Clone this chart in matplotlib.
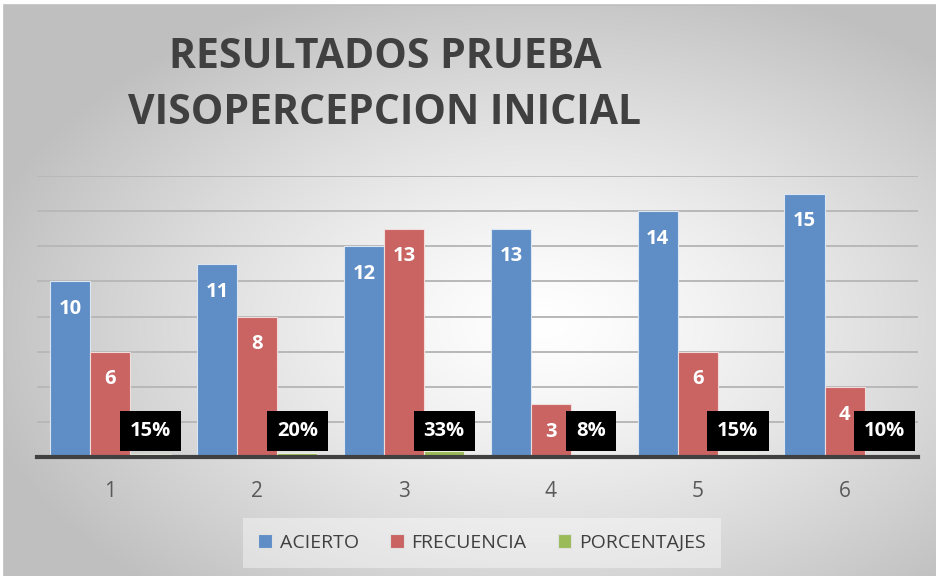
import numpy as np
import matplotlib
matplotlib.use("Agg")
import matplotlib.pyplot as plt
from matplotlib.patches import Rectangle, Patch
from matplotlib import font_manager

# data
categorias = ["1", "2", "3", "4", "5", "6"]
acierto = [10, 11, 12, 13, 14, 15]
frecuencia = [6, 8, 13, 3, 6, 4]
porcentajes = [0.15, 0.20, 0.33, 0.08, 0.15, 0.10]
series_names = ["ACIERTO", "FRECUENCIA", "PORCENTAJES"]

BLUE = "#5f8ec6"
RED = "#c96463"
GREEN = "#9bbb59"
TEXT = "#404040"

names = {f.name for f in font_manager.fontManager.ttflist}
narrow = "Liberation Sans Narrow" if "Liberation Sans Narrow" in names else "Open Sans"
plt.rcParams["font.family"] = ["Open Sans", "DejaVu Sans"]

W, H = 937, 576
fig = plt.figure(figsize=(W / 100, H / 100), dpi=100)

# radial grey gradient background like the office chart area
bg = fig.add_axes([0, 0, 1, 1], zorder=-10)
yy, xx = np.mgrid[0:H, 0:W]
cx, cy = 0.58 * W, 0.56 * H
d = np.sqrt(((xx - cx) / (0.62 * W)) ** 2 + ((yy - cy) / (0.62 * H)) ** 2)
d = np.clip(d, 0, 1)
level = 1.0 - 0.25 * d ** 1.3
img = np.dstack([level, level, level])
img[:5, :] = 1.0
img[:, :4] = 1.0
bg.imshow(img, extent=[0, 1, 0, 1], aspect="auto", origin="upper")
bg.set_xlim(0, 1)
bg.set_ylim(0, 1)
bg.axis("off")
bg.add_patch(Rectangle((4 / W, -0.01), 1.0, 1 - 5 / H + 0.01, fill=False,
                       edgecolor="#bfbfbf", linewidth=1.2))

ax = fig.add_axes([37 / W, 1 - 457 / H, 881 / W, 281 / H])
ax.set_facecolor("none")

x = np.arange(len(categorias))
w = 0.273
bars_a = ax.bar(x - w, acierto, w, color=BLUE, edgecolor="#dce6f2", linewidth=0.8, zorder=3)
bars_f = ax.bar(x, frecuencia, w, color=RED, edgecolor="#f2dcdb", linewidth=0.8, zorder=3)
bars_p = ax.bar(x + w, porcentajes, w, color=GREEN, edgecolor="#ebf1de", linewidth=0.8, zorder=3)

ax.set_xlim(-0.5, len(categorias) - 0.5)
ax.set_ylim(0, 16)
ax.set_yticks(np.arange(2, 17, 2))
ax.yaxis.grid(True, color="#b8b8b8", linewidth=1.4, zorder=0)
ax.tick_params(axis="y", length=0, labelleft=False)
ax.set_xticks(x)
ax.set_xticklabels(categorias, fontsize=15, color="#595959")
ax.tick_params(axis="x", length=0, pad=17)
for s in ["top", "right", "left"]:
    ax.spines[s].set_visible(False)
ax.spines["bottom"].set_color(TEXT)
ax.spines["bottom"].set_linewidth(3)
ax.spines["bottom"].set_zorder(4)

# value labels inside the bar end
for bars, vals in ((bars_a, acierto), (bars_f, frecuencia)):
    for b, v in zip(bars, vals):
        ax.annotate(str(v), (b.get_x() + b.get_width() / 2, v), xytext=(0, -20),
                    textcoords="offset points", ha="center", va="center",
                    color="white", fontsize=14.5, fontweight="bold", zorder=5)

# percentage labels in black boxes, all on the same line above the baseline
for b, p in zip(bars_p, porcentajes):
    ax.annotate(f"{round(p * 100)}%", (b.get_x() + b.get_width() / 2, b.get_y()), xytext=(0, 19),
                textcoords="offset points", ha="center", va="center",
                color="white", fontsize=14.5, fontweight="bold", zorder=6,
                bbox=dict(boxstyle="square,pad=0.5", facecolor="black", edgecolor="none"))

fig.text(385 / W, 1 - 57 / H, "RESULTADOS PRUEBA", ha="center", va="center",
         fontsize=29.5, fontweight="bold", color=TEXT, family=narrow)
fig.text(385 / W, 1 - 114 / H, "VISOPERCEPCION INICIAL", ha="center", va="center",
         fontsize=29.5, fontweight="bold", color=TEXT, family=narrow)

handles = [Patch(facecolor=c, edgecolor="#e0e0e0", linewidth=0.8) for c in (BLUE, RED, GREEN)]
leg = fig.legend(handles, series_names, loc="center", bbox_to_anchor=(482 / W, 1 - 543 / H),
                 ncol=3, frameon=True, fontsize=14, handlelength=0.7, handleheight=0.7,
                 handletextpad=0.4, columnspacing=1.6, borderpad=0.5)
leg.get_frame().set_facecolor("white")
leg.get_frame().set_alpha(0.4)
leg.get_frame().set_edgecolor("none")
leg.get_frame().set_boxstyle("square")
for t in leg.get_texts():
    t.set_color(TEXT)

fig.savefig("out.png", dpi=100)
